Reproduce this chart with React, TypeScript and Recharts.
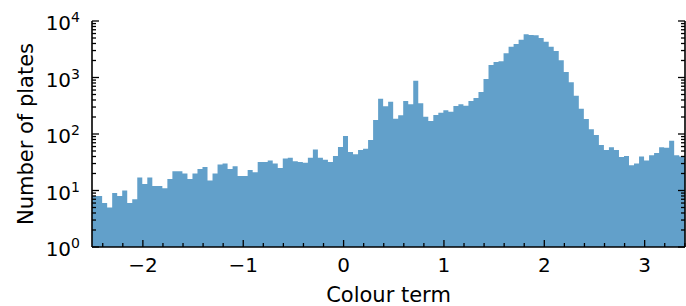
import React from 'react';
import { AreaChart, Area, XAxis, YAxis } from 'recharts';

const FONT = 'DejaVu Sans, sans-serif';

// histogram: bins of 0.05 in colour term, starting at the left edge of the plot
const binStart = -2.506;
const binWidth = 0.05;
const counts = [
  8, 8, 6, 5, 9, 8, 10, 6, 7, 17,
  13, 17, 12, 12, 11, 16, 22, 22, 20, 16,
  20, 24, 26, 15, 20, 29, 30, 24, 27, 18,
  18, 23, 21, 32, 32, 34, 30, 25, 37, 38,
  33, 32, 31, 38, 53, 38, 35, 32, 41, 59,
  92, 48, 44, 52, 55, 78, 177, 421, 310, 373,
  187, 214, 384, 336, 877, 349, 202, 170, 217, 238,
  262, 248, 313, 336, 317, 384, 433, 553, 940, 1664,
  1880, 1930, 2680, 3510, 3920, 4670, 5820, 5650, 5570, 5000,
  4300, 3510, 2940, 2015, 1250, 822, 474, 281, 184, 121,
  96, 64, 52, 58, 52, 39, 41, 28, 30, 40,
  34, 42, 46, 58, 57, 76, 42, 40, 36,
];

const xTicks = [
  -2.4, -2.2, -2, -1.8, -1.6, -1.4, -1.2, -1, -0.8, -0.6, -0.4, -0.2, 0,
  0.2, 0.4, 0.6, 0.8, 1, 1.2, 1.4, 1.6, 1.8, 2, 2.2, 2.4, 2.6, 2.8, 3, 3.2, 3.4,
];
const yTicks = [
  1, 2, 3, 4, 5, 6, 7, 8, 9,
  10, 20, 30, 40, 50, 60, 70, 80, 90,
  100, 200, 300, 400, 500, 600, 700, 800, 900,
  1000, 2000, 3000, 4000, 5000, 6000, 7000, 8000, 9000,
  10000,
];

// step points at each bin edge; the last edge repeats the last count
const rows = [...counts, counts[counts.length - 1]].map((c, i) => ({
  x: +(binStart + i * binWidth).toFixed(4),
  count: c,
}));

const isDecade = (v: number) => Math.abs(Math.log10(v) - Math.round(Math.log10(v))) < 1e-9;

const BottomTick = (props: any) => {
  const { x, y, payload } = props;
  const v = payload.value;
  const major = Number.isInteger(v);
  return (
    <g>
      <line x1={x} y1={y} x2={x} y2={y - (major ? 7 : 4)} stroke="#000" strokeWidth={1.3} />
      {major && (
        <text x={x} y={y + 25} textAnchor="middle" fontSize={20} fontFamily={FONT} fill="#000">
          {v < 0 ? `\u2212${-v}` : `${v}`}
        </text>
      )}
    </g>
  );
};

const TopTick = (props: any) => {
  const { x, y, payload } = props;
  const major = Number.isInteger(payload.value);
  return <line x1={x} y1={y} x2={x} y2={y + (major ? 7 : 4)} stroke="#000" strokeWidth={1.3} />;
};

const LeftTick = (props: any) => {
  const { x, y, payload } = props;
  const v = payload.value;
  const major = isDecade(v);
  return (
    <g>
      <line x1={x} y1={y} x2={x + (major ? 7 : 4)} y2={y} stroke="#000" strokeWidth={1.3} />
      {major && (
        <text x={x - 12} y={y + 9} textAnchor="end" fontSize={20} fontFamily={FONT} fill="#000">
          <tspan>10</tspan>
          <tspan fontSize={14} dy={-8}>{Math.round(Math.log10(v))}</tspan>
        </text>
      )}
    </g>
  );
};

const RightTick = (props: any) => {
  const { x, y, payload } = props;
  const major = isDecade(payload.value);
  return <line x1={x} y1={y} x2={x - (major ? 7 : 4)} y2={y} stroke="#000" strokeWidth={1.3} />;
};

const YLabel = (props: any) => {
  const vb = props.viewBox || {};
  const cy = vb.y != null && vb.height != null ? vb.y + vb.height / 2 : 134;
  return (
    <text
      transform={`translate(33, ${cy}) rotate(-90)`}
      textAnchor="middle"
      fontSize={21}
      fontFamily={FONT}
      fill="#000"
    >
      Number of plates
    </text>
  );
};

const spine = { stroke: '#000', strokeWidth: 1.6 };

export default function App() {
  return (
    <div style={{ position: 'absolute', left: 0, top: 0, background: '#fff' }}>
      <AreaChart width={686} height={306} data={rows} margin={{ top: 21, right: 0, bottom: 0, left: 0 }}>
        <XAxis
          dataKey="x"
          type="number"
          domain={[-2.507, 3.402]}
          allowDataOverflow
          ticks={xTicks}
          interval={0}
          height={59}
          tickSize={0}
          tickMargin={0}
          tickLine={false}
          axisLine={spine}
          tick={<BottomTick />}
          label={{ value: 'Colour term', position: 'insideBottom', offset: 4, fontSize: 21, fontFamily: FONT, fill: '#000' }}
        />
        <XAxis
          xAxisId="t"
          orientation="top"
          dataKey="x"
          type="number"
          domain={[-2.507, 3.402]}
          allowDataOverflow
          ticks={xTicks}
          interval={0}
          height={0}
          tickSize={0}
          tickMargin={0}
          tickLine={false}
          axisLine={spine}
          tick={<TopTick />}
        />
        <YAxis
          scale="log"
          type="number"
          domain={[1, 10000]}
          allowDataOverflow
          ticks={yTicks}
          interval={0}
          width={92}
          tickSize={0}
          tickMargin={0}
          tickLine={false}
          axisLine={spine}
          tick={<LeftTick />}
          label={<YLabel />}
        />
        <YAxis
          yAxisId="r"
          orientation="right"
          scale="log"
          type="number"
          domain={[1, 10000]}
          allowDataOverflow
          ticks={yTicks}
          interval={0}
          width={1}
          tickSize={0}
          tickMargin={0}
          tickLine={false}
          axisLine={spine}
          tick={<RightTick />}
        />
        <Area
          type="stepAfter"
          dataKey="count"
          baseValue={1}
          fill="#1f77b4"
          fillOpacity={0.7}
          stroke="none"
          isAnimationActive={false}
        />
      </AreaChart>
    </div>
  );
}
